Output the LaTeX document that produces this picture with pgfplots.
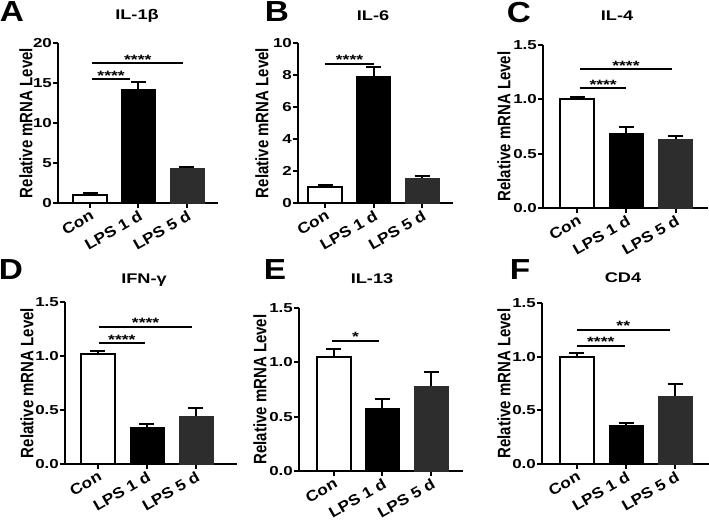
\documentclass[border=0pt]{standalone}
\usepackage{pgfplots}
\pgfplotsset{compat=1.18}
\usepackage{fontspec}
\setmainfont{Liberation Sans}
\newfontfamily\wide[FakeStretch=1.15]{Liberation Sans}
\newfontfamily\wider[FakeStretch=1.3]{Liberation Sans}
\definecolor{dgray}{HTML}{2D2D2D}
\newcommand{\tf}{\wider\bfseries\fontsize{13}{13}\selectfont}
\newcommand{\xf}{\wide\bfseries\fontsize{15}{15}\selectfont}
\tikzset{
  br/.style={line width=2pt},
  st/.style={midway, anchor=south, inner sep=0pt, yshift=-2pt, font=\wider\bfseries\fontsize{13.5}{13.5}\selectfont},
}
\pgfplotsset{
  panel/.style={
    scale only axis,
    axis lines*=left,
    axis line style={line width=2pt},
    ymin=0,
    xtick={0,1,2},
    xticklabels={Con, LPS 1 d, LPS 5 d},
    x tick label style={rotate=30, anchor=north east, font=\xf, inner sep=1pt},
    y tick label style={font=\tf, inner sep=1pt},
    /pgf/number format/assume math mode=true,
    tick style={line width=2pt, black},
    major tick length=5pt,
    tick align=outside,
    ylabel={\scalebox{1}[1.2]{Relative mRNA Level}},
    ylabel style={font=\bfseries\fontsize{15}{15}\selectfont, at={(axis description cs:0,0.5)}, anchor=center},
    clip=false,
  },
  dec/.style={yticklabel style={/pgf/number format/.cd, fixed, fixed zerofill, precision=1}},
  barbase/.style={ybar, bar width=34pt, bar shift=0pt,
    error bars/y dir=plus, error bars/y explicit,
    error bars/error bar style={line width=2pt, black},
    error bars/error mark options={rotate=90, black, line width=2pt, mark size=7.5pt}},
  con/.style={barbase, draw=black, fill=white, line width=2pt},
  lone/.style={barbase, draw=black, fill=black},
  lfive/.style={barbase, draw=dgray, fill=dgray},
}
\begin{document}
\begin{tikzpicture}
\useasboundingbox (0,0) rectangle (709pt,523pt);
% panel letters and titles
\begin{scope}[font=\wide\bfseries\fontsize{29}{29}\selectfont]
\node at (12pt,511pt) {A};
\node at (277pt,511pt) {B};
\node at (519pt,510pt) {C};
\node at (11pt,253pt) {D};
\node at (275pt,253pt) {E};
\node at (520pt,253pt) {F};
\end{scope}
\begin{scope}[font=\wider\bfseries\fontsize{14}{14}\selectfont]
\node at (137pt,507pt) {IL-1β};
\node at (373pt,507pt) {IL-6};
\node at (617pt,507pt) {IL-4};
\node at (144pt,243pt) {IFN-γ};
\node at (372pt,244pt) {IL-13};
\node at (623pt,245pt) {CD4};
\end{scope}

% A
\begin{axis}[panel, at={(58pt,320pt)}, anchor=south west, width=160pt, height=160pt,
  xmin=-0.66, xmax=2.64, ymax=20, ytick={0,5,10,15,20}, ylabel style={yshift=32pt}]
\addplot[con] coordinates {(0,1.0) +- (0,0.25)};
\addplot[lone] coordinates {(1,14.25) +- (0,0.85)};
\addplot[lfive] coordinates {(2,4.4) +- (0,0.15)};
\draw[br] (axis cs:0.05,15.5) -- (axis cs:0.82,15.5) node[st] {****};
\draw[br] (axis cs:0.05,17.5) -- (axis cs:1.92,17.5) node[st] {****};
\end{axis}

% B
\begin{axis}[panel, at={(298pt,320pt)}, anchor=south west, width=155pt, height=160pt,
  xmin=-0.565, xmax=2.64, ymax=10, ytick={0,2,4,6,8,10}, ylabel style={yshift=36pt}]
\addplot[con] coordinates {(0,1.0) +- (0,0.15)};
\addplot[lone] coordinates {(1,7.95) +- (0,0.55)};
\addplot[lfive] coordinates {(2,1.56) +- (0,0.14)};
\draw[br] (axis cs:0.0,8.69) -- (axis cs:1.0,8.69) node[st] {****};
\end{axis}

% C
\begin{axis}[panel, dec, at={(543pt,315pt)}, anchor=south west, width=165pt, height=163pt,
  xmin=-0.70, xmax=2.66, ymax=1.5, ytick={0,0.5,1,1.5}, ylabel style={yshift=39pt}]
\addplot[con] coordinates {(0,1.0) +- (0,0.025)};
\addplot[lone] coordinates {(1,0.69) +- (0,0.06)};
\addplot[lfive] coordinates {(2,0.636) +- (0,0.025)};
\draw[br] (axis cs:0.05,1.10) -- (axis cs:1.0,1.10) node[st] {****};
\draw[br] (axis cs:0.05,1.275) -- (axis cs:1.93,1.275) node[st] {****};
\end{axis}

% D
\begin{axis}[panel, dec, at={(65pt,59pt)}, anchor=south west, width=172pt, height=162pt,
  xmin=-0.67, xmax=2.84, ymax=1.5, ytick={0,0.5,1,1.5}, ylabel style={yshift=38pt}]
\addplot[con] coordinates {(0,1.02) +- (0,0.03)};
\addplot[lone] coordinates {(1,0.34) +- (0,0.03)};
\addplot[lfive] coordinates {(2,0.446) +- (0,0.075)};
\draw[br] (axis cs:0.02,1.12) -- (axis cs:0.96,1.12) node[st] {****};
\draw[br] (axis cs:0.02,1.27) -- (axis cs:1.93,1.27) node[st] {****};
\end{axis}

% E
\begin{axis}[panel, dec, at={(299pt,52pt)}, anchor=south west, width=164pt, height=163pt,
  xmin=-0.71, xmax=2.65, ymax=1.5, ytick={0,0.5,1,1.5}, ylabel style={yshift=39pt}]
\addplot[con] coordinates {(0,1.05) +- (0,0.07)};
\addplot[lone] coordinates {(1,0.58) +- (0,0.08)};
\addplot[lfive] coordinates {(2,0.78) +- (0,0.13)};
\draw[br] (axis cs:-0.03,1.2) -- (axis cs:0.93,1.2) node[st] {*};
\end{axis}

% F
\begin{axis}[panel, dec, at={(542pt,59pt)}, anchor=south west, width=168pt, height=161pt,
  xmin=-0.70, xmax=2.70, ymax=1.5, ytick={0,0.5,1,1.5}, ylabel style={yshift=38pt}]
\addplot[con] coordinates {(0,1.0) +- (0,0.03)};
\addplot[lone] coordinates {(1,0.366) +- (0,0.02)};
\addplot[lfive] coordinates {(2,0.63) +- (0,0.12)};
\draw[br] (axis cs:0.0,1.10) -- (axis cs:0.98,1.10) node[st] {****};
\draw[br] (axis cs:0.0,1.25) -- (axis cs:1.89,1.25) node[st] {**};
\end{axis}
\end{tikzpicture}
\end{document}
